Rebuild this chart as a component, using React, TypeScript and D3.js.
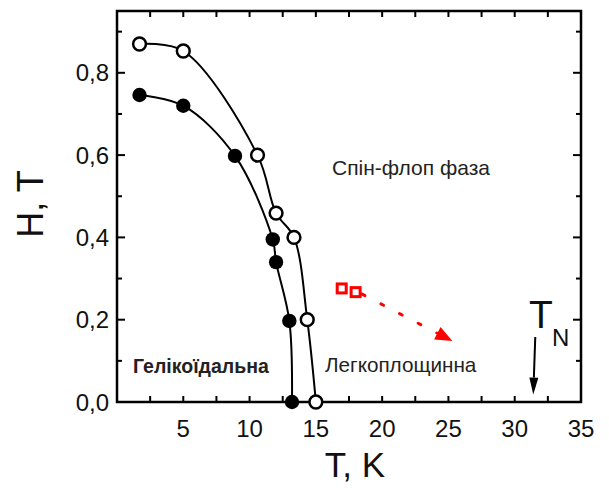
import React from "react";
import * as d3 from "d3";

// Open circles (upper boundary)
const T_open = [1.7, 5.0, 10.6, 12.0, 13.35, 14.35, 15.0];
const H_open = [0.87, 0.853, 0.6, 0.459, 0.4, 0.2, 0.0];
// Filled circles (lower boundary)
const T_filled = [1.7, 5.0, 8.9, 11.75, 12.0, 13.0, 13.2];
const H_filled = [0.746, 0.72, 0.598, 0.395, 0.34, 0.197, 0.0];
// Red squares
const T_red = [16.95, 18.0];
const H_red = [0.276, 0.267];
// Red dotted arrow (start, end)
const T_redArrow = [18.5, 25.3];
const H_redArrow = [0.262, 0.148];
// T_N arrow (start, end)
const T_tn = [31.55, 31.4];
const H_tn = [0.158, 0.018];

const xTicks = [5, 10, 15, 20, 25, 30, 35];
const xMinor = [2.5, 7.5, 12.5, 17.5, 22.5, 27.5, 32.5];
const yTicks = [0, 0.2, 0.4, 0.6, 0.8];
const yMinor = [0.1, 0.3, 0.5, 0.7, 0.9];

const W = 609;
const H = 488;
const L = 117, R = 581, TOP = 11, B = 402;
const FONT = "'Liberation Sans', Arial, sans-serif";

export default function App() {
  const x = d3.scaleLinear().domain([0, 35]).range([L, R]);
  const y = d3.scaleLinear().domain([0, 0.95]).range([B, B - 0.95 * 411.5]);

  const line = d3
    .line<[number, number]>()
    .x((d) => x(d[0]))
    .y((d) => y(d[1]))
    .curve(d3.curveCatmullRom.alpha(0.5));

  const openPts: [number, number][] = T_open.map((t, i) => [t, H_open[i]]);
  const filledPts: [number, number][] = T_filled.map((t, i) => [t, H_filled[i]]);

  const ax1 = x(T_redArrow[0]), ay1 = y(H_redArrow[0]);
  const ax2 = x(T_redArrow[1]), ay2 = y(H_redArrow[1]);
  const ang = Math.atan2(ay2 - ay1, ax2 - ax1);
  const headLen = 17, headW = 7;
  const bx = ax2 - headLen * Math.cos(ang), by = ay2 - headLen * Math.sin(ang);
  const redHead = [
    [ax2, ay2],
    [bx + headW * Math.sin(ang), by - headW * Math.cos(ang)],
    [bx - headW * Math.sin(ang), by + headW * Math.cos(ang)],
  ];

  const tx1 = x(T_tn[0]), ty1 = y(H_tn[0]);
  const tx2 = x(T_tn[1]), ty2 = y(H_tn[1]);
  const ang2 = Math.atan2(ty2 - ty1, tx2 - tx1);
  const hl2 = 17, hw2 = 4.5;
  const cx2 = tx2 - hl2 * Math.cos(ang2), cy2 = ty2 - hl2 * Math.sin(ang2);
  const tnHead = [
    [tx2, ty2],
    [cx2 + hw2 * Math.sin(ang2), cy2 - hw2 * Math.cos(ang2)],
    [cx2 - hw2 * Math.sin(ang2), cy2 + hw2 * Math.cos(ang2)],
  ];

  return (
    <svg
      width={W}
      height={H}
      style={{ position: "absolute", left: 0, top: 0, background: "#fff" }}
      fontFamily={FONT}
    >
      <rect x={0} y={0} width={W} height={H} fill="#fff" />
      {/* ticks */}
      <g stroke="#000" strokeWidth={2}>
        {xTicks.concat(xMinor).map((t) => (
          <g key={"xt" + t}>
            <line x1={x(t)} x2={x(t)} y1={B} y2={B - 6} />
            <line x1={x(t)} x2={x(t)} y1={TOP} y2={TOP + 6} />
          </g>
        ))}
        {yTicks.map((t) => (
          <g key={"yt" + t}>
            <line x1={L} x2={L + 8} y1={y(t)} y2={y(t)} />
            <line x1={R} x2={R - 8} y1={y(t)} y2={y(t)} />
          </g>
        ))}
        {yMinor.map((t) => (
          <g key={"ym" + t}>
            <line x1={L} x2={L + 5} y1={y(t)} y2={y(t)} />
            <line x1={R} x2={R - 5} y1={y(t)} y2={y(t)} />
          </g>
        ))}
      </g>
      {/* frame */}
      <rect x={L} y={TOP} width={R - L} height={B - TOP} fill="none" stroke="#000" strokeWidth={2.5} />

      {/* tick labels */}
      <g fontSize={24} fill="#111">
        {xTicks.map((t) => (
          <text key={"xl" + t} x={x(t)} y={437} textAnchor="middle">
            {t}
          </text>
        ))}
        {yTicks.map((t) => (
          <text key={"yl" + t} x={109} y={y(t) + 8.5} textAnchor="end">
            {t.toFixed(1).replace(".", ",")}
          </text>
        ))}
      </g>

      {/* axis titles */}
      <text x={355} y={477} textAnchor="middle" fontSize={35} fill="#111">
        T, K
      </text>
      <text
        transform={`translate(43,204) rotate(-90)`}
        textAnchor="middle"
        fontSize={36}
        fill="#111"
      >
        H, T
      </text>

      {/* curves */}
      <path d={line(openPts) || ""} fill="none" stroke="#000" strokeWidth={2} />
      <path d={line(filledPts) || ""} fill="none" stroke="#000" strokeWidth={2} />

      {/* markers */}
      {openPts.map((p, i) => (
        <circle key={"o" + i} cx={x(p[0])} cy={y(p[1])} r={6.4} fill="#fff" stroke="#000" strokeWidth={2.5} />
      ))}
      {filledPts.map((p, i) => (
        <circle key={"f" + i} cx={x(p[0])} cy={y(p[1])} r={7.2} fill="#000" />
      ))}

      {/* red squares */}
      {T_red.map((t, i) => (
        <rect
          key={"r" + i}
          x={x(t) - 4.5}
          y={y(H_red[i]) - 4.5}
          width={9}
          height={9}
          fill="#fff"
          stroke="#f00"
          strokeWidth={3}
        />
      ))}
      {/* red dotted arrow */}
      <line
        x1={ax1}
        y1={ay1}
        x2={bx}
        y2={by}
        stroke="#f00"
        strokeWidth={3}
        strokeDasharray="3 18"
        strokeLinecap="round"
      />
      <polygon points={redHead.map((p) => p.join(",")).join(" ")} fill="#f00" />

      {/* T_N */}
      <line x1={tx1} y1={ty1} x2={cx2} y2={cy2} stroke="#000" strokeWidth={2} />
      <polygon points={tnHead.map((p) => p.join(",")).join(" ")} fill="#000" />
      <text x={529} y={328} fontSize={39} fill="#111">T</text>
      <text x={552} y={346} fontSize={24} fill="#111">N</text>

      {/* region labels */}
      <text x={332} y={175} fontSize={21} fill="#222">Спін-флоп фаза</text>
      <text x={133} y={373} fontSize={19.5} fontWeight="bold" fill="#222">Гелікоїдальна</text>
      <text x={325} y={372} fontSize={20.7} fill="#222">Легкоплощинна</text>
    </svg>
  );
}
